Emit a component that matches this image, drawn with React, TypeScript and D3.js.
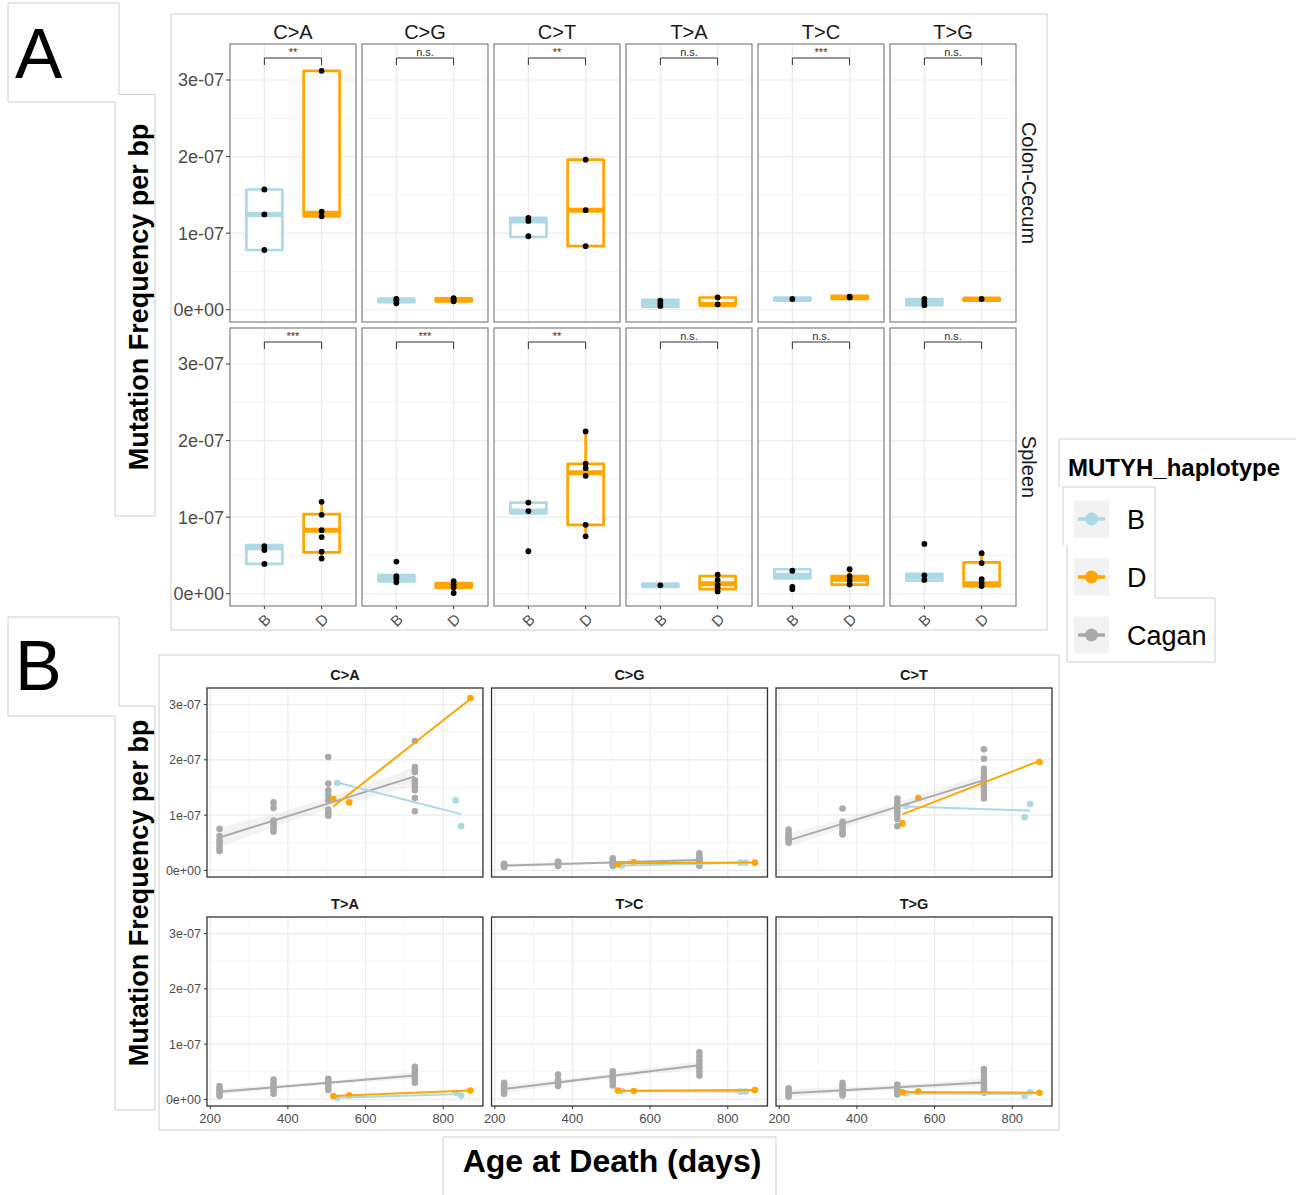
import React from "react";
import * as d3 from "d3";

// ---------- shared categories ----------
const mutationTypes = ["C>A", "C>G", "C>T", "T>A", "T>C", "T>G"];
const haplotypes = ["B", "D"];
const tissues = ["Colon-Cecum", "Spleen"];
const freqTicks = [0, 1e-7, 2e-7, 3e-7];
const freqMinorTicks = [0.5e-7, 1.5e-7, 2.5e-7];
const ageTicks = [200, 400, 600, 800];
const ageMinorTicks = [300, 500, 700, 900];
const legendGroups = ["B", "D", "Cagan"];
const groupColors = ["#ADD8E6", "#FFA500", "#A9A9A9"];

// ---------- Panel A (values in units of 1e-7) ----------
// box stats: [lower whisker, Q1, median, Q3, upper whisker]
const colonBoxB = [
  [0.78, 0.78, 1.245, 1.57, 1.57],
  [0.085, 0.1, 0.13, 0.14, 0.14],
  [0.95, 0.95, 1.16, 1.2, 1.2],
  [0.04, 0.04, 0.09, 0.13, 0.13],
  [0.12, 0.12, 0.14, 0.155, 0.155],
  [0.06, 0.06, 0.1, 0.14, 0.14],
];
const colonBoxD = [
  [1.22, 1.22, 1.26, 3.12, 3.12],
  [0.11, 0.11, 0.13, 0.15, 0.15],
  [0.83, 0.83, 1.3, 1.96, 1.96],
  [0.06, 0.06, 0.07, 0.16, 0.16],
  [0.14, 0.14, 0.16, 0.18, 0.18],
  [0.12, 0.12, 0.14, 0.15, 0.15],
];
const spleenBoxB = [
  [0.39, 0.39, 0.6, 0.635, 0.635],
  [0.15, 0.16, 0.2, 0.245, 0.245],
  [1.05, 1.05, 1.08, 1.19, 1.19],
  [0.09, 0.09, 0.11, 0.13, 0.13],
  [0.2, 0.2, 0.24, 0.32, 0.32],
  [0.17, 0.17, 0.22, 0.26, 0.26],
];
const spleenBoxD = [
  [0.46, 0.54, 0.83, 1.04, 1.2],
  [0.01, 0.08, 0.11, 0.14, 0.16],
  [0.75, 0.9, 1.58, 1.695, 2.12],
  [0.03, 0.06, 0.13, 0.23, 0.25],
  [0.12, 0.12, 0.19, 0.23, 0.32],
  [0.1, 0.1, 0.13, 0.41, 0.53],
];
const colonPointsB = [
  [1.57, 1.245, 0.78],
  [0.14, 0.13, 0.085],
  [1.2, 1.16, 0.96],
  [0.12, 0.08, 0.05],
  [0.14],
  [0.14, 0.1, 0.06],
];
const colonPointsD = [
  [3.12, 1.28, 1.22],
  [0.15, 0.13, 0.11],
  [1.96, 1.3, 0.83],
  [0.16, 0.07],
  [0.17, 0.16],
  [0.14],
];
const spleenPointsB = [
  [0.62, 0.57, 0.39],
  [0.42, 0.23, 0.2, 0.15],
  [1.19, 1.08, 0.555],
  [0.11],
  [0.3, 0.09, 0.06],
  [0.65, 0.24, 0.18],
];
const spleenPointsD = [
  [1.2, 1.03, 0.83, 0.74, 0.55, 0.46],
  [0.165, 0.12, 0.08, 0.01],
  [2.12, 1.7, 1.64, 1.54, 0.9, 0.75],
  [0.25, 0.18, 0.12, 0.08, 0.03],
  [0.32, 0.23, 0.17, 0.12],
  [0.53, 0.4, 0.19, 0.14, 0.1],
];
const colonSignif = ["**", "n.s.", "**", "n.s.", "***", "n.s."];
const spleenSignif = ["***", "***", "**", "n.s.", "n.s.", "n.s."];

// ---------- Panel B (values in units of 1e-7) ----------
const caganAges = [224, 363, 504, 727];
const caganCtoA = [
  [0.75, 0.62, 0.55, 0.5, 0.45, 0.4, 0.35],
  [1.23, 1.13, 0.9, 0.85, 0.8, 0.75, 0.7],
  [2.05, 1.57, 1.45, 1.36, 1.27, 1.1, 1.04, 0.99],
  [2.34, 1.87, 1.82, 1.78, 1.63, 1.58, 1.51, 1.45, 1.31, 1.07],
];
const caganCtoG = [
  [0.12, 0.1, 0.09, 0.08, 0.07, 0.06],
  [0.16, 0.14, 0.12, 0.1, 0.08],
  [0.22, 0.18, 0.15, 0.12, 0.1, 0.08],
  [0.31, 0.27, 0.23, 0.2, 0.17, 0.14, 0.11, 0.08],
];
const caganCtoT = [
  [0.74, 0.68, 0.63, 0.6, 0.57, 0.53, 0.5],
  [1.12, 0.88, 0.82, 0.77, 0.72, 0.68, 0.65],
  [1.3, 1.24, 1.18, 1.12, 1.06, 1.0, 0.93, 0.8],
  [2.19, 2.02, 1.84, 1.76, 1.68, 1.6, 1.52, 1.44, 1.37, 1.3],
];
const caganTtoA = [
  [0.24, 0.2, 0.16, 0.12, 0.09, 0.06],
  [0.36, 0.3, 0.25, 0.2, 0.15, 0.1],
  [0.37, 0.33, 0.29, 0.25, 0.21, 0.17],
  [0.59, 0.54, 0.49, 0.44, 0.4, 0.35, 0.3],
];
const caganTtoC = [
  [0.3, 0.26, 0.22, 0.18, 0.14, 0.1],
  [0.45, 0.36, 0.32, 0.28, 0.24],
  [0.51, 0.45, 0.4, 0.35, 0.3, 0.25],
  [0.85, 0.78, 0.71, 0.64, 0.57, 0.5, 0.43],
];
const caganTtoG = [
  [0.2, 0.16, 0.12, 0.08, 0.05],
  [0.3, 0.25, 0.2, 0.15, 0.1, 0.07],
  [0.27, 0.22, 0.17, 0.13, 0.09],
  [0.55, 0.48, 0.41, 0.34, 0.28, 0.22, 0.16, 0.12],
];
const caganByType = [caganCtoA, caganCtoG, caganCtoT, caganTtoA, caganTtoC, caganTtoG];

const hapBAges = [527, 832, 846];
const hapBValues = [
  [1.58, 1.27, 0.8],
  [0.085, 0.14, 0.14],
  [1.16, 0.96, 1.2],
  [0.03, 0.12, 0.07],
  [0.15, 0.14, 0.14],
  [0.11, 0.06, 0.13],
];
const hapDAges = [517, 558, 870];
const hapDValues = [
  [1.29, 1.23, 3.12],
  [0.11, 0.15, 0.14],
  [0.85, 1.31, 1.96],
  [0.06, 0.074, 0.16],
  [0.16, 0.15, 0.17],
  [0.13, 0.14, 0.12],
];

// ---------- helpers ----------
const E7 = 1e-7;
const fmtSci = (v: number) => {
  if (Math.abs(v) < 1e-20) return "0e+00";
  const [m, e] = v.toExponential(0).split("e");
  const sign = e.startsWith("-") ? "-" : "+";
  const d = e.replace(/[+-]/, "").padStart(2, "0");
  return `${m}e${sign}${d}`;
};

function linFit(xs: number[], ys: number[]) {
  const n = xs.length;
  const mx = d3.mean(xs) as number;
  const my = d3.mean(ys) as number;
  let sxx = 0, sxy = 0;
  xs.forEach((x, i) => {
    sxx += (x - mx) ** 2;
    sxy += (x - mx) * (ys[i] - my);
  });
  const b = sxy / sxx;
  const a = my - b * mx;
  let sse = 0;
  xs.forEach((x, i) => {
    sse += (ys[i] - a - b * x) ** 2;
  });
  const s = Math.sqrt(sse / Math.max(1, n - 2));
  return { a, b, mx, sxx, s, n };
}

const FONT = "'Liberation Sans', Arial, Helvetica, sans-serif";
const BORDER_LIGHT = "#cfcfcf";

// ---------- Panel A ----------
function PanelA() {
  const facetX = d3.scaleBand<string>().domain(mutationTypes).range([230, 1016]).paddingInner(0.0455);
  const bw = facetX.bandwidth();
  const xIn = d3.scalePoint<string>().domain(haplotypes).range([0, bw]).padding(0.6);
  const tops = [44, 328];
  const H = 278;
  const boxes = [
    [colonBoxB, colonBoxD],
    [spleenBoxB, spleenBoxD],
  ];
  const pts = [
    [colonPointsB, colonPointsD],
    [spleenPointsB, spleenPointsD],
  ];
  const signif = [colonSignif, spleenSignif];
  const boxHalf = 18;

  return (
    <g>
      {tissues.map((tissue, r) => {
        const top = tops[r];
        const y = d3.scaleLinear().domain([-0.16 * E7, 3.47 * E7]).range([top + H, top]);
        return (
          <g key={tissue}>
            {mutationTypes.map((mt, c) => {
              const left = facetX(mt) as number;
              return (
                <g key={mt}>
                  {freqMinorTicks.map((t) => (
                    <line key={"mn" + t} x1={left} x2={left + bw} y1={y(t)} y2={y(t)} stroke="#f3f3f3" strokeWidth={0.8} />
                  ))}
                  {freqTicks.map((t) => (
                    <line key={"mj" + t} x1={left} x2={left + bw} y1={y(t)} y2={y(t)} stroke="#ebebeb" strokeWidth={1.2} />
                  ))}
                  {haplotypes.map((h) => (
                    <line key={"v" + h} x1={left + (xIn(h) as number)} x2={left + (xIn(h) as number)} y1={top} y2={top + H} stroke="#ebebeb" strokeWidth={1.2} />
                  ))}
                  {haplotypes.map((h, hi) => {
                    const cx = left + (xIn(h) as number);
                    const [lo, q1, med, q3, hi2] = boxes[r][hi][c].map((v) => y(v * E7));
                    const col = groupColors[hi];
                    return (
                      <g key={"box" + h}>
                        <line x1={cx} x2={cx} y1={lo} y2={q1} stroke={col} strokeWidth={2.7} />
                        <line x1={cx} x2={cx} y1={q3} y2={hi2} stroke={col} strokeWidth={2.7} />
                        <rect x={cx - boxHalf} y={q3} width={boxHalf * 2} height={Math.max(0.5, q1 - q3)} fill="#fff" stroke={col} strokeWidth={2.7} strokeLinejoin="round" />
                        <line x1={cx - boxHalf} x2={cx + boxHalf} y1={med} y2={med} stroke={col} strokeWidth={5} />
                      </g>
                    );
                  })}
                  {haplotypes.map((h, hi) => {
                    const cx = left + (xIn(h) as number);
                    return pts[r][hi][c].map((v, k) => (
                      <circle key={"p" + h + k} cx={cx} cy={y(v * E7)} r={2.9} fill="#000" />
                    ));
                  })}
                  <path
                    d={`M${left + (xIn("B") as number)},${top + 21}V${top + 14}H${left + (xIn("D") as number)}V${top + 21}`}
                    fill="none"
                    stroke="#333"
                    strokeWidth={1}
                  />
                  <text x={left + bw / 2} y={top + 12} textAnchor="middle" fontSize={11} fill="#333">
                    {signif[r][c]}
                  </text>
                  <rect x={left} y={top} width={bw} height={H} fill="none" stroke="#8a8a8a" strokeWidth={1.3} />
                  {r === 0 && (
                    <text x={left + bw / 2} y={39} textAnchor="middle" fontSize={20} fill="#1a1a1a">
                      {mt}
                    </text>
                  )}
                  {r === 1 &&
                    haplotypes.map((h) => {
                      const cx = left + (xIn(h) as number);
                      return (
                        <g key={"xl" + h}>
                          <line x1={cx} x2={cx} y1={top + H} y2={top + H + 3} stroke="#333" />
                          <text
                            transform={`translate(${cx},${top + H + 14}) rotate(-45)`}
                            textAnchor="middle"
                            dominantBaseline="central"
                            fontSize={15}
                            fill="#4d4d4d"
                          >
                            {h}
                          </text>
                        </g>
                      );
                    })}
                </g>
              );
            })}
            {freqTicks.map((t) => (
              <g key={"yl" + t}>
                <line x1={226} x2={230} y1={y(t)} y2={y(t)} stroke="#333" />
                <text x={224} y={y(t) + 6.5} textAnchor="end" fontSize={18} fill="#4d4d4d">
                  {fmtSci(t)}
                </text>
              </g>
            ))}
            <text transform={`translate(1022,${top + H / 2}) rotate(90)`} textAnchor="middle" fontSize={20} fill="#1a1a1a">
              {tissue}
            </text>
          </g>
        );
      })}
    </g>
  );
}

// ---------- Panel B ----------
function PanelB() {
  const facetX = d3.scaleBand<number>().domain([0, 1, 2]).range([207, 1052]).paddingInner(0.03);
  const bw = facetX.bandwidth();
  const tops = [688, 917];
  const H = 189;
  const allAges = [...caganAges, ...hapBAges, ...hapDAges];
  const [amin, amax] = d3.extent(allAges) as [number, number];
  const pad = (amax - amin) * 0.05;
  const ageDomain = [amin - pad, amax + pad];

  return (
    <g>
      {mutationTypes.map((mt, i) => {
        const col = i % 3;
        const row = Math.floor(i / 3);
        const left = facetX(col) as number;
        const top = tops[row];
        const x = d3.scaleLinear().domain(ageDomain).range([left, left + bw]);
        const y = d3.scaleLinear().domain([-0.12 * E7, 3.3 * E7]).range([top + H, top]);

        const caganPts = caganByType[i].flatMap((vals, k) => vals.map((v) => [caganAges[k], v * E7]));
        const bPts = hapBAges.map((a, k) => [a, hapBValues[i][k] * E7]);
        const dPts = hapDAges.map((a, k) => [a, hapDValues[i][k] * E7]);
        const groups = [bPts, dPts, caganPts];

        const fits = groups.map((g) => linFit(g.map((p) => p[0]), g.map((p) => p[1])));
        const cf = fits[2];
        const cx = d3.extent(caganPts.map((p) => p[0])) as [number, number];
        const samples = d3.range(0, 41).map((k) => cx[0] + ((cx[1] - cx[0]) * k) / 40);
        const ribbon = d3
          .area<number>()
          .x((a) => x(a))
          .y0((a) => y(cf.a + cf.b * a - 2.04 * cf.s * Math.sqrt(1 / cf.n + (a - cf.mx) ** 2 / cf.sxx)))
          .y1((a) => y(cf.a + cf.b * a + 2.04 * cf.s * Math.sqrt(1 / cf.n + (a - cf.mx) ** 2 / cf.sxx)));
        const drawOrder = [2, 0, 1];

        return (
          <g key={mt}>
            {freqMinorTicks.map((t) => (
              <line key={"mn" + t} x1={left} x2={left + bw} y1={y(t)} y2={y(t)} stroke="#f3f3f3" strokeWidth={0.8} />
            ))}
            {ageMinorTicks
              .filter((t) => x(t) <= left + bw)
              .map((t) => (
                <line key={"vm" + t} x1={x(t)} x2={x(t)} y1={top} y2={top + H} stroke="#f3f3f3" strokeWidth={0.8} />
              ))}
            {freqTicks.map((t) => (
              <line key={"mj" + t} x1={left} x2={left + bw} y1={y(t)} y2={y(t)} stroke="#ebebeb" strokeWidth={1.2} />
            ))}
            {ageTicks.map((t) => (
              <line key={"vj" + t} x1={x(t)} x2={x(t)} y1={top} y2={top + H} stroke="#ebebeb" strokeWidth={1.2} />
            ))}
            <path d={ribbon(samples) as string} fill="#aaa" opacity={0.14} />
            {drawOrder.map((gi) =>
              groups[gi].map((p, k) => (
                <circle key={"pt" + gi + "-" + k} cx={x(p[0])} cy={y(p[1])} r={3.3} fill={groupColors[gi]} />
              ))
            )}
            {drawOrder.map((gi) => {
              const f = fits[gi];
              const ex = d3.extent(groups[gi].map((p) => p[0])) as [number, number];
              return (
                <line
                  key={"ln" + gi}
                  x1={x(ex[0])}
                  x2={x(ex[1])}
                  y1={y(f.a + f.b * ex[0])}
                  y2={y(f.a + f.b * ex[1])}
                  stroke={groupColors[gi]}
                  strokeWidth={2}
                />
              );
            })}
            <rect x={left} y={top} width={bw} height={H} fill="none" stroke="#333" strokeWidth={1.3} />
            <text x={left + bw / 2} y={top - 8} textAnchor="middle" fontSize={14.5} fontWeight="bold" fill="#1a1a1a">
              {mt}
            </text>
            {col === 0 &&
              freqTicks.map((t) => (
                <g key={"yl" + t}>
                  <line x1={left - 3} x2={left} y1={y(t)} y2={y(t)} stroke="#333" />
                  <text x={left - 6} y={y(t) + 4.5} textAnchor="end" fontSize={12.5} fill="#4d4d4d">
                    {fmtSci(t)}
                  </text>
                </g>
              ))}
            {row === 1 &&
              ageTicks.map((t) => (
                <g key={"xl" + t}>
                  <line x1={x(t)} x2={x(t)} y1={top + H} y2={top + H + 3} stroke="#333" />
                  <text x={x(t)} y={top + H + 17} textAnchor="middle" fontSize={13} fill="#4d4d4d">
                    {t}
                  </text>
                </g>
              ))}
          </g>
        );
      })}
    </g>
  );
}

// ---------- Legend ----------
function Legend() {
  const keyY = d3.scalePoint<string>().domain(legendGroups).range([519, 635]);
  return (
    <g>
      <path d="M1059,487V439H1296" fill="none" stroke={BORDER_LIGHT} />
      <path d="M1063,545V487H1155V598" fill="none" stroke={BORDER_LIGHT} />
      <path d="M1067,545V662H1215V598H1155" fill="none" stroke={BORDER_LIGHT} />
      <text x={1068} y={476} fontSize={24} fontWeight="bold" fill="#000">
        MUTYH_haplotype
      </text>
      {legendGroups.map((g, i) => {
        const cy = keyY(g) as number;
        return (
          <g key={g}>
            <rect x={1074} y={cy - 18.5} width={35} height={37} fill="#f2f2f2" />
            <line x1={1078} x2={1105} y1={cy} y2={cy} stroke={groupColors[i]} strokeWidth={3.5} />
            <circle cx={1091.5} cy={cy} r={6.5} fill={groupColors[i]} />
            <text x={1127} y={cy + 10} fontSize={27} fill="#000">
              {g}
            </text>
          </g>
        );
      })}
    </g>
  );
}

export default function App() {
  return (
    <svg
      width={1310}
      height={1195}
      style={{ position: "absolute", left: 0, top: 0, background: "#fff" }}
      fontFamily={FONT}
    >
      <rect x={0} y={0} width={1310} height={1195} fill="#fff" />
      <path d="M8,3H119V94.5H155V516H115V102H8Z" fill="none" stroke={BORDER_LIGHT} />
      <path d="M8,617H119V706H155V1110H115V716H8Z" fill="none" stroke={BORDER_LIGHT} />
      <path d="M443,1195V1137H776V1195" fill="none" stroke={BORDER_LIGHT} />
      <rect x={171} y={14} width={876} height={616} fill="none" stroke={BORDER_LIGHT} />
      <rect x={159} y={655} width={900} height={475} fill="none" stroke={BORDER_LIGHT} />

      <text x={15} y={78} fontSize={71} fill="#000">A</text>
      <text x={15} y={690} fontSize={70} fill="#000">B</text>
      <text transform="translate(148,297) rotate(-90)" textAnchor="middle" fontSize={27} fontWeight="bold" fill="#000">
        Mutation Frequency per bp
      </text>
      <text transform="translate(148,893) rotate(-90)" textAnchor="middle" fontSize={27} fontWeight="bold" fill="#000">
        Mutation Frequency per bp
      </text>
      <text x={612} y={1172} textAnchor="middle" fontSize={32} fontWeight="bold" fill="#000">
        Age at Death (days)
      </text>

      <PanelA />
      <PanelB />
      <Legend />
    </svg>
  );
}
